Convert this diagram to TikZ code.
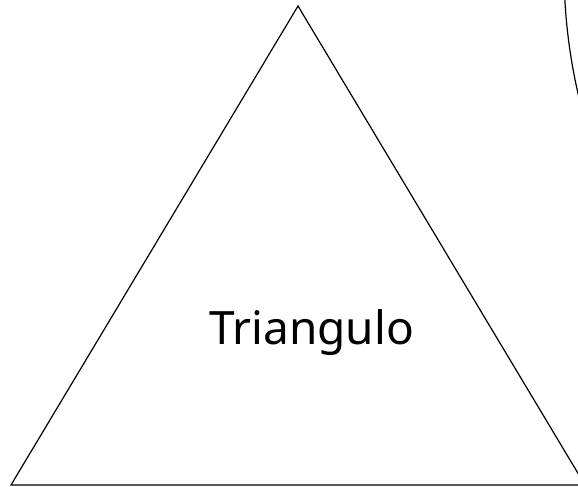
\documentclass[tikz,border=0pt]{standalone}
\usepackage{fontspec}
\setmainfont{Noto Sans}
\usetikzlibrary{positioning}
\tikzset{
  outline/.style={draw=black, line width=1.2pt, line join=miter},
  shapelabel/.style={font=\fontsize{46}{55}\selectfont, inner sep=0pt, anchor=base}
}

\begin{document}
\begin{tikzpicture}[x=1pt, y=-1pt]
  \useasboundingbox (0,0) rectangle (578,487);
  \clip (0,0) rectangle (578,487);
  % corners of the triangle
  \coordinate (apex) at (298,6);
  \coordinate (baseL) at (11,485);
  \coordinate (baseR) at (585,485);
  \draw[outline] (apex) -- (baseL) -- (baseR) -- cycle;
  \node[shapelabel] (tri) at (311.5,344) {Triangulo};
  % edge of the next shape, off to the right
  \coordinate (rim) at (1124,-31);
  \draw[outline] (rim) ++(180:560) arc[start angle=180, end angle=120, radius=560];
\end{tikzpicture}
\end{document}
